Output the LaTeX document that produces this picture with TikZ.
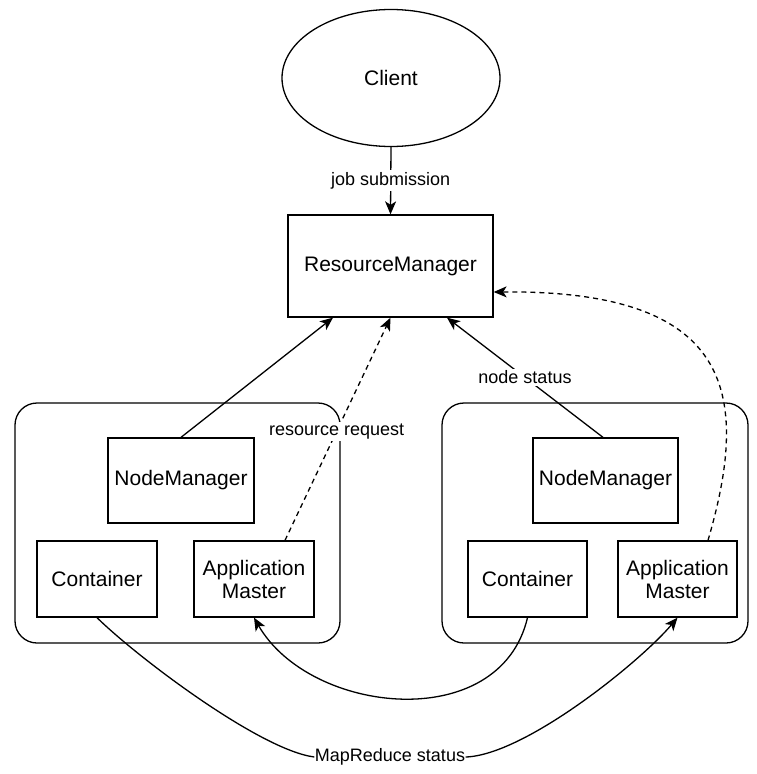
\documentclass[tikz,border=0pt]{standalone}
\usepackage{fontspec}
\setmainfont{Liberation Sans}
\usetikzlibrary{shapes.geometric,arrows.meta}
\begin{document}
\begin{tikzpicture}[x=1pt,y=-1pt,line width=1.3pt,
    box/.style={draw,rectangle,inner sep=0pt,align=center,font=\fontsize{21}{23}\selectfont},
    group/.style={draw,rounded corners=22pt,inner sep=0pt,minimum height=240pt},
    lbl/.style={fill=white,inner sep=2pt,font=\fontsize{18}{20}\selectfont},
    arr/.style={-{Stealth[length=13pt,width=11pt,inset=3.5pt]}},
    req/.style={arr,dash pattern=on 5pt off 4pt}]
  \useasboundingbox (0,0) rectangle (757,774);

  % client and resource manager
  \node[box,ellipse,minimum width=218pt,minimum height=137pt] (client) at (391,78) {Client};
  \node[box,minimum width=205pt,minimum height=102pt] (rm) at (390.5,266) {ResourceManager};

  % the two machines
  \node[group,minimum width=325pt] (hostA) at (177.5,523) {};
  \node[group,minimum width=306pt] (hostB) at (595,523) {};

  \node[box,minimum width=146pt,minimum height=85pt] (nmA) at (181,480.5) {NodeManager};
  \node[box,minimum width=120pt,minimum height=76pt] (conA) at (97,579) {Container};
  \node[box,minimum width=120pt,minimum height=76pt] (amA) at (254,579) {Application\\Master};

  \node[box,minimum width=145pt,minimum height=85pt] (nmB) at (605.5,480.5) {NodeManager};
  \node[box,minimum width=119pt,minimum height=76pt] (conB) at (527.5,579) {Container};
  \node[box,minimum width=119pt,minimum height=76pt] (amB) at (677.5,579) {Application\\Master};

  % messages to the resource manager
  \draw[arr] (client.south) -- node[lbl]{job submission} (rm.north);
  \draw[arr] (nmA.north) -- ([xshift=-57.5pt]rm.south);
  \draw[arr] ([xshift=-2.5pt]nmB.north) -- node[lbl]{node status} ([xshift=56.5pt]rm.south);
  \draw[req] ([xshift=31pt]amA.north) -- node[lbl,pos=.49]{resource request} (rm.south);
  \draw[req] ([xshift=30.5pt]amB.north) .. controls (752,390) and (730,290) .. ([yshift=-26pt]rm.east);

  % status between the machines
  \draw[arr] (conB.south) .. controls (500,735) and (310,715) .. (amA.south);
  \node[lbl,inner sep=0pt] (mrs) at (390,757) {MapReduce status};
  \draw (conA.south) .. controls (137,657) and (260,750) .. (mrs.west);
  \draw[arr] (mrs.east) .. controls (525,755) and (640,662) .. (amB.south);
\end{tikzpicture}
\end{document}
